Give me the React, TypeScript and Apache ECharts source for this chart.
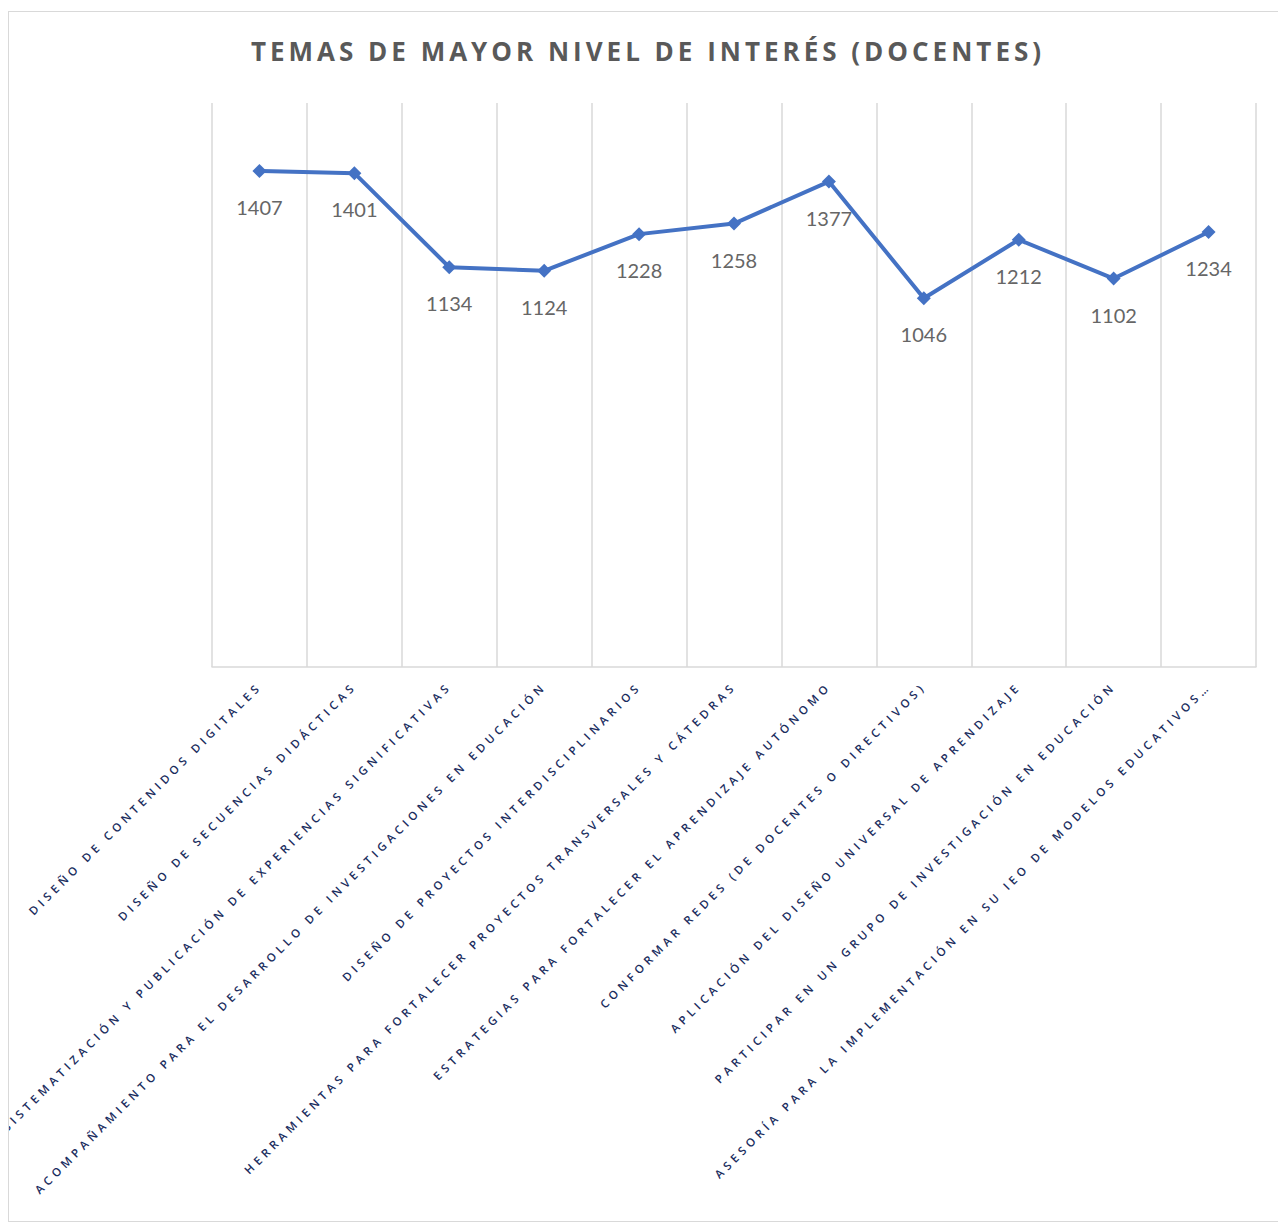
import React, { useEffect, useRef } from "react";
import * as echarts from "echarts";

const titleText = "TEMAS DE MAYOR NIVEL DE INTERÉS (DOCENTES)";

const categories = [
  "DISEÑO DE CONTENIDOS DIGITALES",
  "DISEÑO DE SECUENCIAS DIDÁCTICAS",
  "SISTEMATIZACIÓN Y PUBLICACIÓN DE EXPERIENCIAS SIGNIFICATIVAS",
  "ACOMPAÑAMIENTO PARA EL DESARROLLO DE INVESTIGACIONES EN EDUCACIÓN",
  "DISEÑO DE PROYECTOS INTERDISCIPLINARIOS",
  "HERRAMIENTAS PARA FORTALECER PROYECTOS TRANSVERSALES Y CÁTEDRAS",
  "ESTRATEGIAS PARA FORTALECER EL APRENDIZAJE AUTÓNOMO",
  "CONFORMAR REDES (DE DOCENTES O DIRECTIVOS)",
  "APLICACIÓN DEL DISEÑO UNIVERSAL DE APRENDIZAJE",
  "PARTICIPAR EN UN GRUPO DE INVESTIGACIÓN EN EDUCACIÓN",
  "ASESORÍA PARA LA IMPLEMENTACIÓN EN SU IEO DE MODELOS EDUCATIVOS…",
];

const values = [1407, 1401, 1134, 1124, 1228, 1258, 1377, 1046, 1212, 1102, 1234];

const yMin = 0;
const yMax = 1600;

export default function App() {
  const ref = useRef<HTMLDivElement>(null);

  useEffect(() => {
    if (!ref.current) return;
    const chart = echarts.init(ref.current, undefined, { renderer: "svg" });
    const catSet = new Set(categories);

    const applySpacing = () => {
      const root = ref.current;
      if (!root) return;
      root.querySelectorAll("text").forEach((t) => {
        const s = (t.textContent || "").trim();
        if (catSet.has(s)) {
          t.setAttribute("letter-spacing", "4.2");
          (t as any).style.letterSpacing = "4.2px";
        } else if (s === titleText) {
          t.setAttribute("letter-spacing", "4");
          (t as any).style.letterSpacing = "4px";
        }
      });
    };

    chart.setOption({
      animation: false,
      backgroundColor: "#ffffff",
      grid: {
        left: 203,
        right: 42,
        top: 91,
        bottom: 554,
        containLabel: false,
        outerBoundsMode: "none",
      },
      graphic: [
        {
          type: "text",
          x: 639,
          y: 39,
          silent: true,
          style: {
            text: titleText,
            fill: "#595959",
            font: "bold 26px 'Open Sans'",
            align: "center",
            verticalAlign: "middle",
            textAlign: "center",
            textVerticalAlign: "middle",
          },
        },
      ],
      xAxis: {
        type: "category",
        data: categories,
        boundaryGap: true,
        axisLine: { show: true, lineStyle: { color: "#d9d9d9", width: 1.5 } },
        axisTick: { show: false },
        splitLine: { show: true, lineStyle: { color: "#d9d9d9", width: 1.5 } },
        axisLabel: {
          interval: 0,
          rotate: 45,
          margin: 17,
          color: "#1a2d5e",
          fontFamily: "Open Sans",
          fontWeight: 600,
          fontSize: 11.5,
          align: "right",
          verticalAlign: "middle",
        },
      },
      yAxis: {
        type: "value",
        min: yMin,
        max: yMax,
        show: true,
        axisLine: { show: false },
        axisTick: { show: false },
        axisLabel: { show: false },
        splitLine: { show: false },
      },
      series: [
        {
          type: "line",
          data: values,
          symbol: "diamond",
          symbolSize: 14,
          lineStyle: { color: "#4472C4", width: 4 },
          itemStyle: { color: "#4472C4" },
          label: {
            show: true,
            position: "bottom",
            distance: 19,
            color: "#666666",
            fontFamily: "Lato",
            fontSize: 20,
          },
        },
      ],
    });

    applySpacing();
    chart.on("finished", applySpacing);
    const tm = setTimeout(applySpacing, 0);

    return () => {
      clearTimeout(tm);
      chart.dispose();
    };
  }, []);

  return (
    <div
      style={{
        position: "fixed",
        left: 8,
        top: 11,
        width: 1290,
        height: 1211,
        boxSizing: "border-box",
        borderLeft: "1.5px solid #d9d9d9",
        borderTop: "1.5px solid #d9d9d9",
        borderBottom: "1.5px solid #d9d9d9",
        overflow: "hidden",
        background: "#ffffff",
      }}
    >
      <div ref={ref} style={{ width: "100%", height: "100%" }} />
    </div>
  );
}
